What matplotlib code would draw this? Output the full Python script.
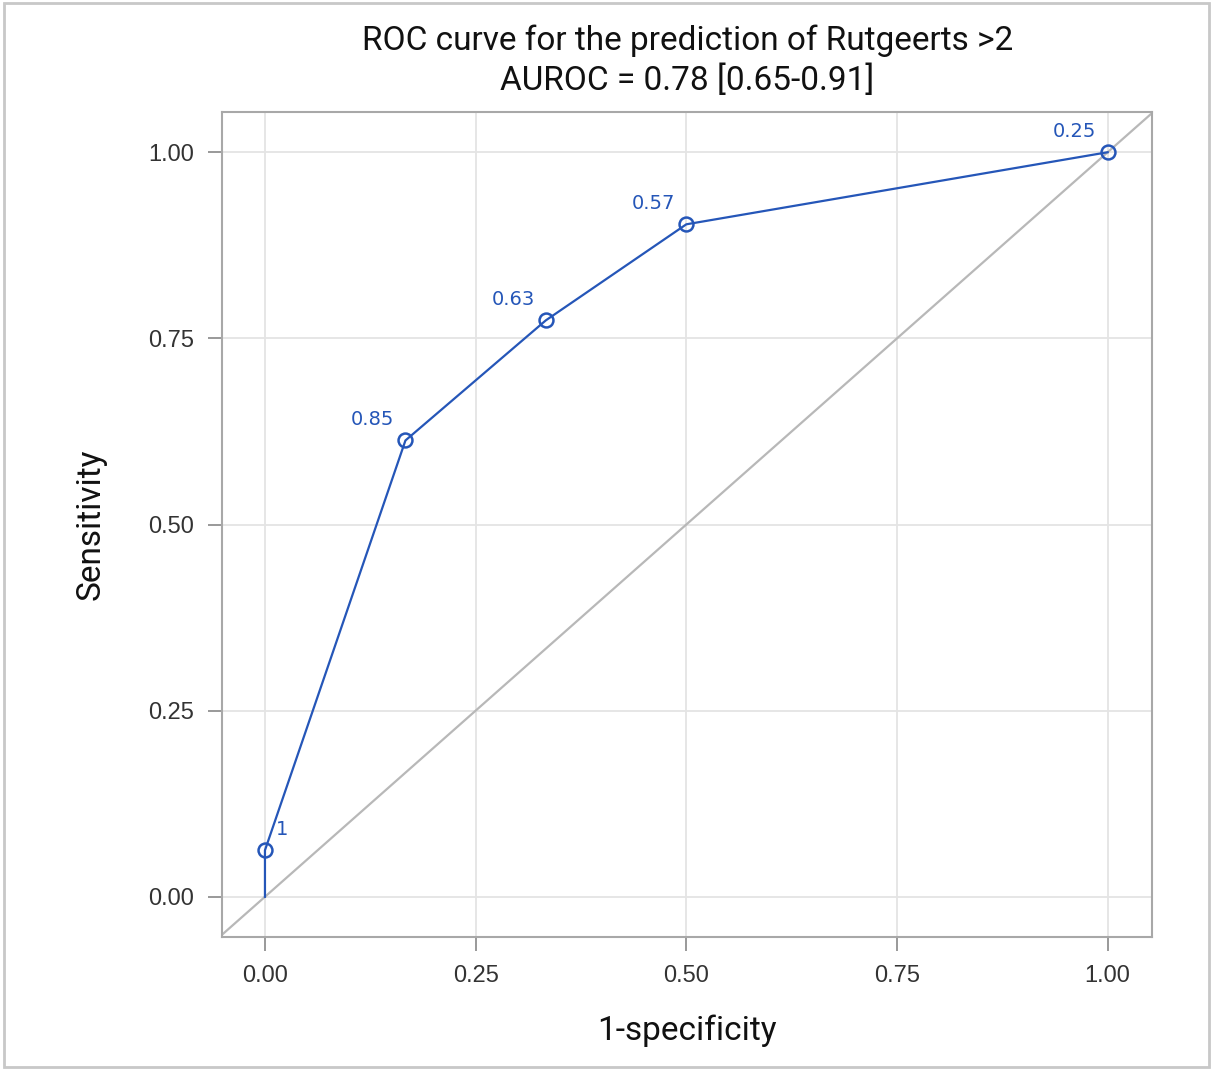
import matplotlib
matplotlib.use("Agg")
import matplotlib.pyplot as plt
from matplotlib.patches import Rectangle

fpr = [0.0, 0.0, 0.1667, 0.3333, 0.5, 1.0]
tpr = [0.0, 0.0625, 0.6129, 0.7742, 0.9032, 1.0]
point_fpr = [0.0, 0.1667, 0.3333, 0.5, 1.0]
point_tpr = [0.0625, 0.6129, 0.7742, 0.9032, 1.0]
point_labels = ["1", "0.85", "0.63", "0.57", "0.25"]
ticks = [0.0, 0.25, 0.5, 0.75, 1.0]
tick_labels = ["0.00", "0.25", "0.50", "0.75", "1.00"]

title_font = ["Roboto", "DejaVu Sans"]
tick_font = ["Liberation Sans", "DejaVu Sans"]
blue = "#2556b8"

fig = plt.figure(figsize=(12.13, 10.70), dpi=100)
fig.patches.append(Rectangle((0.003, 0.003), 0.994, 0.994, transform=fig.transFigure,
                             fill=False, edgecolor="#c8c8c8", linewidth=2))
ax = fig.add_axes([0.183, 0.1243, 0.767, 0.771])

ax.set_xlim(-0.051, 1.053)
ax.set_ylim(-0.054, 1.054)

ax.plot([-0.1, 1.1], [-0.1, 1.1], color="#b8b8b8", lw=1.6, zorder=1)
ax.plot(fpr, tpr, color=blue, lw=1.6, zorder=3)
ax.plot(point_fpr, point_tpr, linestyle="none", marker="o", ms=10, mfc="none",
        mec=blue, mew=1.8, zorder=4)

for x, y, lab in zip(point_fpr, point_tpr, point_labels):
    if lab == "1":
        ax.annotate(lab, (x, y), xytext=(8, 8), textcoords="offset points",
                    ha="left", va="bottom", color=blue, fontsize=14,
                    family="DejaVu Sans")
    else:
        ax.annotate(lab, (x, y), xytext=(-8, 8), textcoords="offset points",
                    ha="right", va="bottom", color=blue, fontsize=14,
                    family="DejaVu Sans")

ax.set_xticks(ticks)
ax.set_xticklabels(tick_labels, family=tick_font, fontsize=17, color="#333333")
ax.set_yticks(ticks)
ax.set_yticklabels(tick_labels, family=tick_font, fontsize=17, color="#333333")
ax.tick_params(axis="both", length=10, width=1.2, color="#888888", pad=10)
ax.grid(True, color="#e4e4e4", lw=1.3)
ax.set_axisbelow(True)
for s in ax.spines.values():
    s.set_color("#a8a8a8")
    s.set_linewidth(1.5)

ax.set_xlabel("1-specificity", family=title_font, fontsize=24, labelpad=20, color="#111111")
ax.set_ylabel("Sensitivity", family=title_font, fontsize=24, labelpad=30, color="#111111")
ax.set_title("ROC curve for the prediction of Rutgeerts >2\nAUROC = 0.78 [0.65-0.91]",
             family=title_font, fontsize=24, pad=16, color="#111111", linespacing=1.3)

fig.savefig("out.png", dpi=100)
